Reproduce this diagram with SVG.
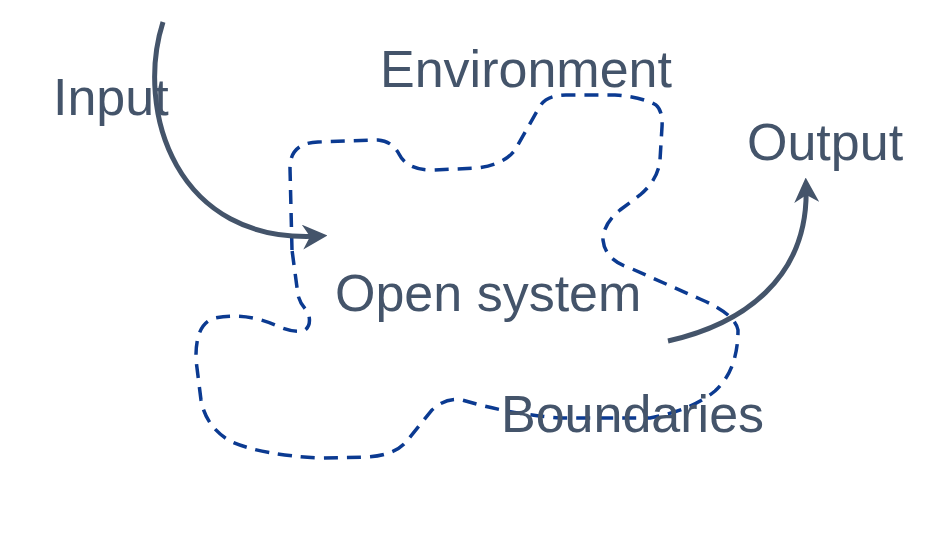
<svg xmlns="http://www.w3.org/2000/svg" width="934" height="535" viewBox="0 0 934 535">
<style>
.lbl{font-family:"Liberation Sans",Arial,sans-serif;font-size:52px;fill:#44546A}
.arr{fill:none;stroke:#44546A;stroke-width:5}
.bnd{fill:none;stroke:#0B3A91;stroke-width:3.5;stroke-dasharray:14 9}
</style>
<defs>
<marker id="ah" viewBox="0 0 10 10" refX="7" refY="5" markerWidth="5" markerHeight="5" markerUnits="strokeWidth" orient="auto">
<path d="M0,0 L10,5 L0,10 L3,5 Z" fill="#44546A"/>
</marker>
</defs>
<rect width="934" height="535" fill="#fff"/>
<g id="boundary">
<path class="bnd" d="M292,250 L290,168 Q290,143 318,142 L378,140 Q392,141 399,154 Q407,170 432,170 L478,168 Q505,164 515,150 L540,106 Q547,95 566,95 L615,95 Q642,97 656,105 Q663,111 662,127 L660,160 Q658,180 640,195 L620,210 Q603,224 603,240 Q605,260 630,268 L700,299 Q735,314 738,330 Q738,370 715,391 Q692,410 650,418 L560,418 Q520,415 480,405 L462,400 Q446,397 432,410 L406,442 Q395,455 368,457 L320,458 Q262,455 232,442 Q206,428 201,400 L196,360 Q195,323 215,318 Q245,312 275,325 Q295,334 305,330 Q312,325 308,312 Q300,304 298,295 Z"/>
</g>
<g id="connectors">
<path class="arr" d="M163,22 C135,110 175,245 320,236" marker-end="url(#ah)"/>
<path class="arr" d="M668,341 C740,325 810,280 806,185" marker-end="url(#ah)"/>
</g>
<g id="input"><text class="lbl" x="53" y="115">Input</text></g>
<g id="environment"><text class="lbl" x="380" y="87">Environment</text></g>
<g id="output"><text class="lbl" x="747" y="160">Output</text></g>
<g id="open-system"><text class="lbl" x="335" y="311">Open system</text></g>
<g id="boundaries"><text class="lbl" x="501" y="432">Boundaries</text></g>
</svg>
